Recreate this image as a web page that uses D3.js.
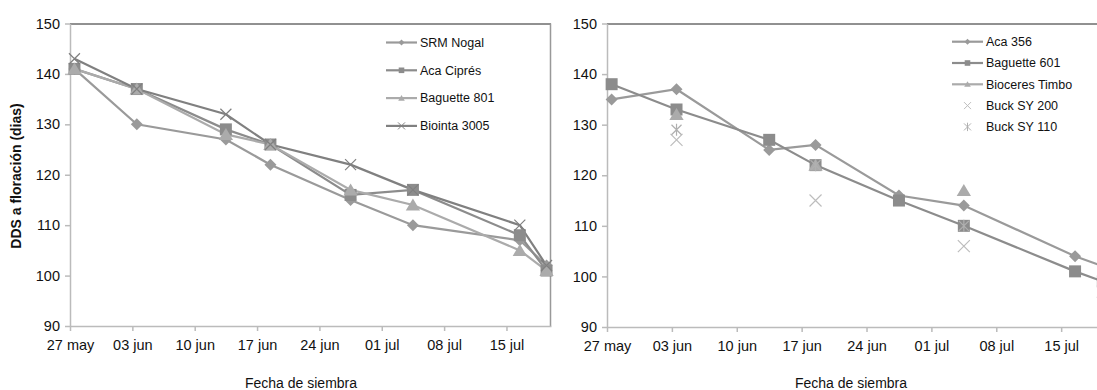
<!doctype html>
<html lang="es">
<head>
  <meta charset="utf-8">
  <title>DDS a floración</title>
  <script src="https://d3js.org/d3.v7.min.js"></script>
  <style>
    body { margin: 0; background: #fff; }
    text { font-family: "Liberation Sans", Arial, sans-serif; fill: #111; }
  </style>
</head>
<body>
<div id="chart"></div>
<script>
// sowing dates (both panels)
var dates = ["2014-05-27", "2014-06-03", "2014-06-13", "2014-06-18", "2014-06-27", "2014-07-04", "2014-07-16", "2014-07-19"];
var tickDates = ["2014-05-27", "2014-06-03", "2014-06-10", "2014-06-17", "2014-06-24", "2014-07-01", "2014-07-08", "2014-07-15"];
var tickLabels = ["27 may", "03 jun", "10 jun", "17 jun", "24 jun", "01 jul", "08 jul", "15 jul"];
var yTicks = [90, 100, 110, 120, 130, 140, 150];

// left panel
var leftNames = ["SRM Nogal", "Aca Ciprés", "Baguette 801", "Biointa 3005"];
var srmNogal    = [141, 130, 127, 122, 115, 110, 107, 102];
var acaCipres   = [141, 137, 129, 126, 116, 117, 108, 101];
var baguette801 = [141, 137, 128, 126, 117, 114, 105, 101];
var biointa3005 = [143, 137, 132, 126, 122, 117, 110, 102];

// right panel
var rightNames = ["Aca 356", "Baguette 601", "Bioceres Timbo", "Buck SY 200", "Buck SY 110"];
var aca356      = [135, 137, 125, 126, 116, 114, 104, 102];
var baguette601 = [138, 133, 127, 122, 115, 110, 101, 99];
var bioceres    = [null, 132, null, 122, null, 117, null, null];
var buckSY200   = [null, 127, null, 115, null, 106, null, 97];
var buckSY110   = [null, 129, null, 122, null, 110, null, null];

var W = 1097, H = 390;
var parse = d3.utcParse("%Y-%m-%d");

var svg = d3.select("#chart").append("svg")
    .attr("width", W).attr("height", H);

// marker shapes, r = half size
function marker(kind, r) {
  if (kind === "diamond") return "M0," + (-r) + "L" + r + ",0L0," + r + "L" + (-r) + ",0Z";
  if (kind === "square") return "M" + (-r) + "," + (-r) + "h" + (2 * r) + "v" + (2 * r) + "h" + (-2 * r) + "Z";
  if (kind === "triangle") return "M0," + (-r) + "L" + (r * 1.1) + "," + (r * 0.85) + "L" + (-r * 1.1) + "," + (r * 0.85) + "Z";
  if (kind === "x") return "M" + (-r) + "," + (-r) + "L" + r + "," + r + "M" + r + "," + (-r) + "L" + (-r) + "," + r;
  // star: x with vertical bar
  return "M" + (-r) + "," + (-r) + "L" + r + "," + r + "M" + r + "," + (-r) + "L" + (-r) + "," + r + "M0," + (-r * 1.2) + "V" + (r * 1.2);
}
function isOpen(kind) { return kind === "x" || kind === "star"; }

function drawPanel(opt) {
  var g = svg.append("g");

  var x = d3.scaleUtc()
      .domain([parse("2014-05-27"), parse("2014-07-20")])
      .range([opt.x0, opt.x1]);
  var y = d3.scaleLinear().domain([90, 150]).range([opt.y1, opt.y0]);

  // frame: top and right dark, left/bottom light grey
  g.append("line").attr("x1", opt.x0).attr("x2", opt.x1).attr("y1", opt.y0 + 0.5).attr("y2", opt.y0 + 0.5)
      .attr("stroke", "#222").attr("stroke-width", 1);
  g.append("line").attr("x1", opt.x1 - 0.5).attr("x2", opt.x1 - 0.5).attr("y1", opt.y0).attr("y2", opt.y1)
      .attr("stroke", "#999").attr("stroke-width", 1.5);

  var xAxis = g.append("g")
      .attr("transform", "translate(0," + opt.y1 + ")")
      .call(d3.axisBottom(x)
          .tickValues(tickDates.map(parse))
          .tickFormat(function (d, i) { return tickLabels[i]; })
          .tickSize(5).tickSizeOuter(0));
  xAxis.select(".domain").attr("stroke", "#bbb").attr("stroke-width", 1.5);
  xAxis.selectAll(".tick line").attr("stroke", "#bbb").attr("stroke-width", 1.5);
  xAxis.selectAll(".tick text").attr("font-size", 14.5).attr("dy", "1.1em")
      .attr("font-family", "Liberation Sans, Arial, sans-serif").attr("fill", "#111");

  var yAxis = g.append("g")
      .attr("transform", "translate(" + opt.x0 + ",0)")
      .call(d3.axisLeft(y).tickValues(yTicks).tickSize(5).tickSizeOuter(0));
  yAxis.select(".domain").attr("stroke", "#bbb").attr("stroke-width", 1.5);
  yAxis.selectAll(".tick line").attr("stroke", "#bbb").attr("stroke-width", 1.5);
  yAxis.selectAll(".tick text").attr("font-size", 14.5).attr("x", -10)
      .attr("font-family", "Liberation Sans, Arial, sans-serif").attr("fill", "#111");

  g.append("text")
      .attr("x", opt.titleX).attr("y", 388)
      .attr("text-anchor", "middle")
      .attr("font-size", 14)
      .text("Fecha de siembra");

  var plot = g.append("g");
  var half = 12 * 3600 * 1000;
  function px(i) { return x(new Date(parse(dates[i]).getTime() + half)); }

  opt.series.forEach(function (s) {
    var pts = s.values.map(function (v, i) { return { i: i, v: v }; });
    if (s.line) {
      plot.append("path")
          .datum(pts)
          .attr("fill", "none")
          .attr("stroke", s.color)
          .attr("stroke-width", 2.2)
          .attr("d", d3.line()
              .defined(function (d) { return d.v !== null; })
              .x(function (d) { return px(d.i); })
              .y(function (d) { return y(d.v); }));
    }
  });

  opt.series.forEach(function (s) {
    var pts = s.values.map(function (v, i) { return { i: i, v: v }; })
        .filter(function (d) { return d.v !== null; });
    plot.selectAll(null).data(pts).enter().append("path")
        .attr("transform", function (d) { return "translate(" + px(d.i) + "," + y(d.v) + ")"; })
        .attr("d", marker(s.kind, s.r))
        .attr("fill", isOpen(s.kind) ? "none" : s.color)
        .attr("stroke", isOpen(s.kind) ? s.color : "none")
        .attr("stroke-width", 1.2);
  });

  // legend
  opt.series.forEach(function (s, i) {
    var ly = opt.legY + i * opt.legStep;
    var lg = g.append("g");
    if (s.line) {
      lg.append("line").attr("x1", opt.legX).attr("x2", opt.legX + 31)
          .attr("y1", ly).attr("y2", ly)
          .attr("stroke", s.color).attr("stroke-width", 2.2);
    }
    lg.append("path")
        .attr("transform", "translate(" + (opt.legX + 15.5) + "," + ly + ")")
        .attr("d", marker(s.kind, s.kind === "square" ? 2.8 : (isOpen(s.kind) ? 3.5 : 3)))
        .attr("fill", isOpen(s.kind) ? "none" : s.color)
        .attr("stroke", isOpen(s.kind) ? s.color : "none")
        .attr("stroke-width", 1);
    lg.append("text")
        .attr("x", opt.legX + 34).attr("y", ly)
        .attr("dy", "0.35em")
        .attr("font-size", 12.5)
        .text(opt.names[i]);
  });
}

drawPanel({
  id: "L", x0: 70, x1: 551, y0: 23.5, y1: 326, titleX: 301,
  legX: 386, legY: 42.5, legStep: 27.8, names: leftNames,
  series: [
    { values: srmNogal, kind: "diamond", color: "#9a9a9a", line: true, r: 6 },
    { values: acaCipres, kind: "square", color: "#8c8c8c", line: true, r: 6 },
    { values: baguette801, kind: "triangle", color: "#ababab", line: true, r: 6.5 },
    { values: biointa3005, kind: "x", color: "#808080", line: true, r: 5.5 }
  ]
});

drawPanel({
  id: "R", x0: 607, x1: 1107.5, y0: 23.5, y1: 327, titleX: 851,
  legX: 952, legY: 41.7, legStep: 21.3, names: rightNames,
  series: [
    { values: aca356, kind: "diamond", color: "#9a9a9a", line: true, r: 6 },
    { values: baguette601, kind: "square", color: "#8c8c8c", line: true, r: 6 },
    { values: bioceres, kind: "triangle", color: "#ababab", line: true, r: 6.5 },
    { values: buckSY200, kind: "x", color: "#bdbdbd", line: false, r: 6 },
    { values: buckSY110, kind: "star", color: "#b0b0b0", line: false, r: 5 }
  ]
});

svg.append("text")
    .attr("transform", "translate(21,176) rotate(-90)")
    .attr("text-anchor", "middle")
    .attr("font-size", 14)
    .attr("font-weight", "bold")
    .text("DDS a floración (dias)");
</script>
</body>
</html>
